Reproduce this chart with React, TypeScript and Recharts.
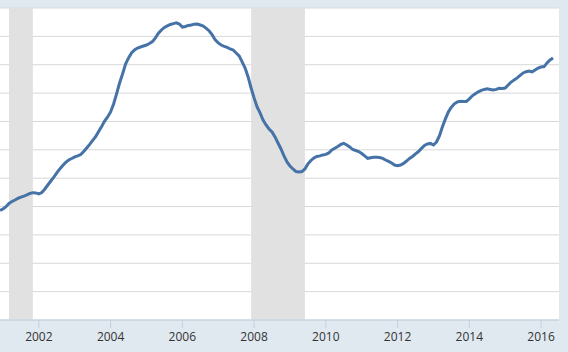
import * as React from "react";
import { CartesianGrid, ComposedChart, Line, ReferenceArea, XAxis, YAxis } from "recharts";

// monthly series, first value is Dec 2000
const startYear = 2000;
const startMonth = 12;

const values = [
  // 2000
  137.2,
  // 2001
  138.3, 139.9, 142.2, 143.6, 144.6, 145.7, 146.7, 147.4, 148.2, 149.2, 149.8, 149.6,
  // 2002
  148.9, 149.9, 152.4, 155.2, 158.0, 160.8, 163.7, 166.5, 169.0, 171.1, 172.8, 173.9,
  // 2003
  175.0, 175.7, 176.7, 178.8, 181.3, 183.8, 186.6, 189.3, 192.9, 196.5, 200.3, 203.2,
  // 2004
  206.7, 212.3, 219.4, 227.1, 233.5, 240.5, 244.8, 248.3, 250.4, 251.8, 252.5, 253.2,
  // 2005
  253.9, 255.0, 256.3, 258.9, 262.2, 264.5, 266.3, 267.4, 268.4, 269.0, 269.5, 268.7,
  // 2006
  266.6, 267.0, 267.7, 268.0, 268.6, 268.7, 268.0, 267.3, 265.6, 263.8, 261.0, 257.5,
  // 2007
  255.4, 253.9, 252.9, 252.2, 251.1, 250.4, 248.3, 246.2, 242.0, 237.7, 231.4, 223.6,
  // 2008
  216.6, 210.2, 206.0, 201.0, 197.5, 194.7, 192.6, 189.1, 184.8, 180.6, 175.7, 171.4,
  // 2009
  168.6, 166.5, 164.7, 164.4, 164.7, 166.5, 170.0, 172.5, 174.2, 175.3, 175.7, 176.4,
  // 2010
  176.8, 177.8, 179.9, 181.1, 182.4, 183.8, 184.6, 183.4, 182.0, 180.2, 179.5, 178.8,
  // 2011
  177.4, 175.7, 174.0, 174.4, 174.8, 174.8, 174.6, 174.0, 172.8, 171.8, 170.7, 169.3,
  // 2012
  168.8, 169.3, 170.4, 172.1, 173.9, 175.3, 177.1, 178.8, 181.0, 183.1, 184.1, 184.5,
  // 2013
  183.4, 185.5, 189.8, 196.2, 201.8, 206.8, 210.0, 212.4, 213.8, 214.2, 214.0, 214.0,
  // 2014
  215.9, 218.1, 219.5, 220.9, 221.9, 222.6, 223.0, 222.6, 222.2, 222.6, 223.4, 223.3,
  // 2015
  223.6, 225.7, 227.8, 229.3, 230.7, 232.5, 234.2, 235.1, 235.6, 234.9, 236.3, 237.7,
  // 2016
  238.4, 238.7, 241.3, 243.4, 244.8,
];

// recessions (decimal years)
const recessionStarts = [2001.167, 2007.917];
const recessionEnds = [2001.833, 2009.417];

const xTicks = [2002, 2004, 2006, 2008, 2010, 2012, 2014, 2016];
const yTicks = [60, 80, 100, 120, 140, 160, 180, 200, 220, 240, 260, 280];

const xStart = startYear + (startMonth - 1) / 12;
const xEnd = 2016.5;

export default function App() {
  const data = React.useMemo(
    () => values.map((v, i) => ({ t: xStart + i / 12, value: v })),
    []
  );

  return (
    <div style={{ position: "fixed", left: 0, top: 0, width: 568, height: 352, background: "#e1e9f0" }}>
      <ComposedChart
        width={568}
        height={352}
        data={data}
        margin={{ top: 8, right: 9, left: 0, bottom: 0 }}
        style={{ fontFamily: "'Open Sans', sans-serif" }}
      >
        <CartesianGrid vertical={false} stroke="#d8d8d8" fill="#ffffff" fillOpacity={1} />
        {recessionStarts.map((s, i) => (
          <ReferenceArea
            key={s}
            x1={s}
            x2={recessionEnds[i]}
            fill="#e1e1e1"
            fillOpacity={1}
            stroke="none"
            ifOverflow="hidden"
          />
        ))}
        <XAxis
          dataKey="t"
          type="number"
          domain={[xStart, xEnd]}
          ticks={xTicks}
          allowDataOverflow
          height={32}
          tickSize={8}
          tickMargin={4}
          axisLine={{ stroke: "#c0d0e0" }}
          tickLine={{ stroke: "#c0d0e0" }}
          tick={{ fill: "#333333", fontSize: 12 }}
        />
        <YAxis hide domain={[60, 280]} ticks={yTicks} />
        <Line
          type="linear"
          dataKey="value"
          stroke="#4572a7"
          strokeWidth={3}
          dot={false}
          isAnimationActive={false}
        />
      </ComposedChart>
    </div>
  );
}
